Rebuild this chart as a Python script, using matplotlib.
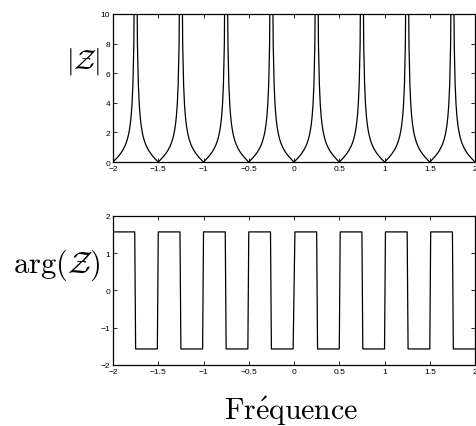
import numpy as np
import matplotlib
matplotlib.use('Agg')
import matplotlib.pyplot as plt

# données : impédance Z = j*tan(2*pi*f), échantillonnée
f_min, f_max, n_points = -2.0, 2.0, 401
freq = np.linspace(f_min, f_max, n_points)
Z = 1j * np.tan(2 * np.pi * freq)
mag = np.abs(Z)
phase = np.angle(Z)

mag_ticks = [0, 2, 4, 6, 8, 10]
phase_ticks = [-2, -1, 0, 1, 2]
freq_ticks = [-2, -1.5, -1, -0.5, 0, 0.5, 1, 1.5, 2]

plt.rcParams['mathtext.fontset'] = 'cm'
plt.rcParams['font.family'] = ['Liberation Sans', 'DejaVu Sans']
plt.rcParams['axes.unicode_minus'] = False

fig = plt.figure(figsize=(4.76, 4.27), dpi=100)
ax1 = fig.add_axes([0.2374, 0.618, 0.7606, 0.347])
ax2 = fig.add_axes([0.2374, 0.143, 0.7606, 0.349])

# module
ax1.plot(freq, mag, color='k', lw=0.9)
ax1.set_xlim(-2, 2)
ax1.set_ylim(0, 10)
ax1.set_yticks(mag_ticks)

# argument
ax2.plot(freq, phase, color='k', lw=0.9)
ax2.set_xlim(-2, 2)
ax2.set_ylim(-2, 2)
ax2.set_yticks(phase_ticks)


def fmt(t):
    return ('%g' % t).replace('-', '\u2212')


for ax in (ax1, ax2):
    ax.set_xticks(freq_ticks)
    ax.set_xticklabels([fmt(t) for t in freq_ticks])
    ax.tick_params(direction='in', top=True, right=True, length=3, width=0.6,
                   labelsize=6, pad=2)
    for s in ax.spines.values():
        s.set_linewidth(0.9)

ax2.set_yticklabels([fmt(t) for t in phase_ticks])

fig.text(0.21, 0.857, r'$|\mathcal{Z}|$', fontsize=20, ha='right', va='center')
fig.text(0.21, 0.379, r'$\arg(\mathcal{Z})$', fontsize=22, ha='right', va='center')
fig.text(0.611, 0.0164, r'$\mathrm{Fr\acute{e}quence}$', fontsize=21.5,
         ha='center', va='baseline')

fig.savefig('out.png', dpi=100)
